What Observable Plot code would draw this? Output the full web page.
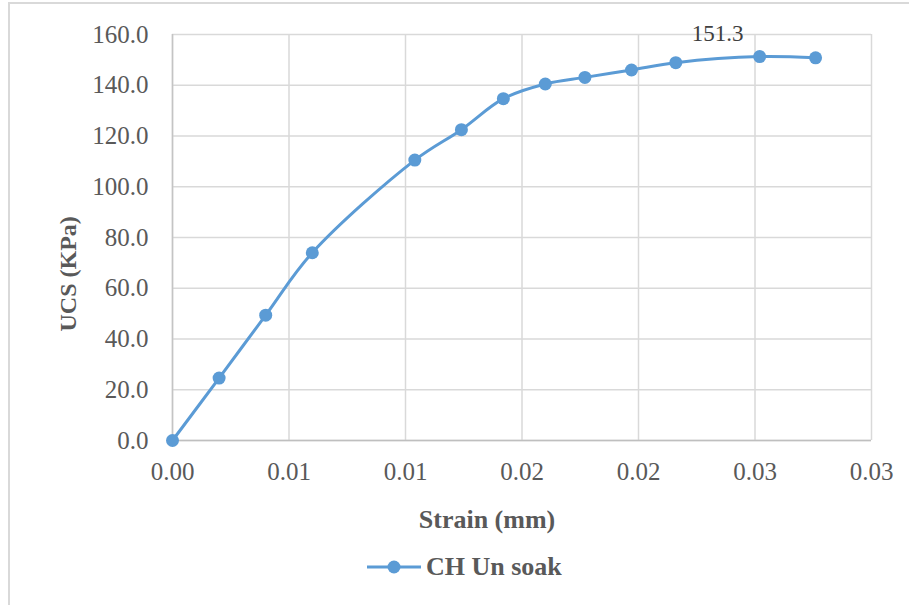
<!DOCTYPE html>
<html>
<head>
<meta charset="utf-8">
<script src="https://cdn.jsdelivr.net/npm/d3@7"></script>
<script src="https://cdn.jsdelivr.net/npm/@observablehq/plot@0.6"></script>
<style>
  html, body { margin: 0; padding: 0; background: #fff; }
  #wrap { position: relative; width: 909px; height: 605px; overflow: hidden; background: #fff; }
  #frame { position: absolute; left: 8px; top: 2px; width: 1000px; height: 700px;
           border-left: 2px solid #d9d9d9; border-top: 2px solid #d9d9d9; box-sizing: border-box; }
  #chart { position: absolute; left: 0; top: 0; }
  #chart svg, #chart svg text { font-family: "Liberation Serif", "DejaVu Serif", "Times New Roman", Tinos, serif !important; }
  #legend { position: absolute; left: 366px; top: 552px; display: flex; align-items: center;
            font-family: "Liberation Serif", "DejaVu Serif", "Times New Roman", Tinos, serif; font-weight: bold;
            font-size: 26px; color: #595959; }
  #legend svg { margin-right: 4px; }
</style>
</head>
<body>
<div id="wrap">
  <div id="frame"></div>
  <div id="chart"></div>
  <div id="legend"></div>
</div>
<script>
const seriesName = "CH Un soak";
const strain = [0, 0.002, 0.004, 0.006, 0.0104, 0.0124, 0.0142, 0.0160, 0.0177, 0.0197, 0.0216, 0.0252, 0.0276];
const ucs = [0, 24.6, 49.4, 74.0, 110.5, 122.5, 134.7, 140.5, 143.1, 146.0, 148.9, 151.3, 150.8];
const xTicks = [0, 0.005, 0.01, 0.015, 0.02, 0.025, 0.03];
const xTickLabels = ["0.00", "0.01", "0.01", "0.02", "0.02", "0.03", "0.03"];
const yTicks = [0, 20, 40, 60, 80, 100, 120, 140, 160];
const xTitle = "Strain (mm)";
const yTitle = "UCS (KPa)";

const data = strain.map((s, i) => ({strain: s, ucs: ucs[i]}));
const maxPoint = data.reduce((a, b) => (b.ucs > a.ucs ? b : a));
const color = "#5B9BD5";

const chart = Plot.plot({
  width: 909,
  height: 540,
  marginLeft: 172,
  marginRight: 38,
  marginTop: 34,
  marginBottom: 100,
  style: {fontSize: "25px", color: "#595959", background: "transparent"},
  x: {domain: [0, 0.03]},
  y: {domain: [0, 160]},
  marks: [
    Plot.gridX(xTicks, {stroke: "#d9d9d9", strokeOpacity: 1, strokeWidth: 1.5}),
    Plot.gridY(yTicks, {stroke: "#d9d9d9", strokeOpacity: 1, strokeWidth: 1.5}),
    Plot.ruleX([0], {stroke: "#c4c4c4", strokeWidth: 1.5}),
    Plot.ruleY([0], {stroke: "#bfbfbf", strokeWidth: 1.5}),
    Plot.axisX(xTicks, {tickSize: 0, tickPadding: 22, tickFormat: (d, i) => xTickLabels[i], label: null, fill: "#595959", fontSize: 25}),
    Plot.axisY(yTicks, {tickSize: 0, tickPadding: 24, tickFormat: d => d.toFixed(1), label: null, fill: "#595959", fontSize: 25}),
    Plot.line(data, {x: "strain", y: "ucs", curve: "catmull-rom", stroke: color, strokeWidth: 3}),
    Plot.dot(data, {x: "strain", y: "ucs", r: 6.5, fill: color, stroke: "none"}),
    Plot.text([maxPoint], {x: "strain", y: "ucs", text: d => d.ucs.toFixed(1), dx: -42, dy: -23, fill: "#404040", fontSize: 23}),
    Plot.text([xTitle], {frameAnchor: "bottom", text: d => d, dx: -35, dy: 87, fontWeight: "bold", fontSize: 26, fill: "#595959"}),
    Plot.text([yTitle], {frameAnchor: "left", text: d => d, rotate: -90, dx: -104, dy: 94, fontWeight: "bold", fontSize: 24, fill: "#595959"})
  ]
});
document.getElementById("chart").appendChild(chart);

const legend = document.getElementById("legend");
legend.innerHTML = `<svg width="56" height="28"><line x1="1" y1="14" x2="55" y2="14" stroke="${color}" stroke-width="3"/><circle cx="28" cy="14" r="6.5" fill="${color}"/></svg><span>${seriesName}</span>`;
</script>
</body>
</html>
